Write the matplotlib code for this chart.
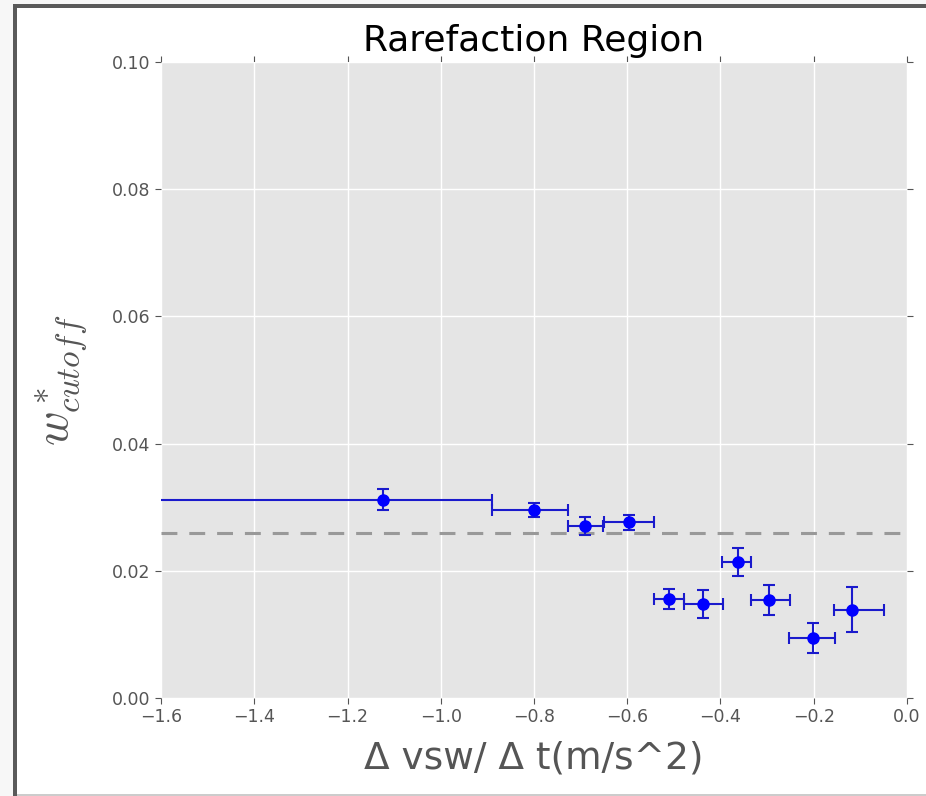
import matplotlib
matplotlib.use("Agg")
import matplotlib.pyplot as plt
from matplotlib.patches import Rectangle
import numpy as np

# bin centres / values
x = [-1.1245, -0.801, -0.691, -0.597, -0.510, -0.438, -0.363, -0.295, -0.201, -0.1185]
y = [0.0312, 0.0295, 0.0271, 0.0276, 0.0156, 0.0148, 0.0214, 0.0154, 0.0094, 0.0139]
# bin edges (horizontal error bars)
x_lo = [-2.0, -0.891, -0.728, -0.649, -0.543, -0.478, -0.396, -0.335, -0.253, -0.156]
x_hi = [-0.891, -0.728, -0.651, -0.542, -0.479, -0.395, -0.335, -0.252, -0.154, -0.049]
y_err = [0.0016, 0.0011, 0.0014, 0.0012, 0.0016, 0.0022, 0.0022, 0.0024, 0.0024, 0.0035]
mean_level = 0.0260

xticks = [-1.6, -1.4, -1.2, -1.0, -0.8, -0.6, -0.4, -0.2, 0.0]
yticks = [0.00, 0.02, 0.04, 0.06, 0.08, 0.10]

plt.style.use("ggplot")
plt.rcParams["mathtext.fontset"] = "cm"
plt.rcParams["xtick.top"] = True
plt.rcParams["ytick.right"] = True

W, H = 926, 796
fig = plt.figure(figsize=(W / 100, H / 100), dpi=100, facecolor="white")

# screenshot frame
def px_rect(x0, y0, x1, y1, color):
    fig.add_artist(Rectangle((x0 / W, 1 - y1 / H), (x1 - x0) / W, (y1 - y0) / H,
                             transform=fig.transFigure, color=color, lw=0, zorder=-5))

px_rect(0, 0, 13, H, "#f7f7f7")
px_rect(0, 0, W, 4, "#f7f7f7")
px_rect(13, 4, 17, H, "#5a5a5a")
px_rect(13, 4, W, 8, "#5a5a5a")
px_rect(17, 794, W, H, "#cccccc")

ax = fig.add_axes([161 / W, 1 - 698 / H, 746 / W, 636 / H])
ax.set_facecolor("#E5E5E5")
for s in ax.spines.values():
    s.set_visible(False)

xa = np.array(x)
xerr = [xa - np.array(x_lo), np.array(x_hi) - xa]
ax.errorbar(x, y, xerr=xerr, yerr=y_err, fmt="o", color="#0000ff", ecolor="#1a1acc",
            markersize=8, elinewidth=1.5, capsize=4, capthick=1.5, zorder=3)
ax.axhline(mean_level, color="#999999", lw=2.2, dashes=(5.2, 3.9), zorder=2)

ax.set_xlim(-1.6, 0.0)
ax.set_ylim(0.0, 0.10)
ax.set_xticks(xticks)
ax.set_yticks(yticks)
ax.set_xticklabels(["\u22121.6", "\u22121.4", "\u22121.2", "\u22121.0", "\u22120.8",
                    "\u22120.6", "\u22120.4", "\u22120.2", "0.0"])
ax.set_yticklabels(["0.00", "0.02", "0.04", "0.06", "0.08", "0.10"])
ax.grid(True, color="white", lw=1, ls="-")
ax.tick_params(direction="out", length=4, color="#555555", labelcolor="#555555",
               labelsize=12.5, top=True, right=True)

ax.set_title("Rarefaction Region", fontsize=26, color="black", pad=8)
ax.set_xlabel("\u0394 vsw/ \u0394 t(m/s^2)", fontsize=27, color="#555555", labelpad=10)
ax.set_ylabel(r"$w^*_{cutoff}$", fontsize=34, color="#555555", labelpad=16)

fig.savefig("out.png", dpi=100, facecolor="white")
